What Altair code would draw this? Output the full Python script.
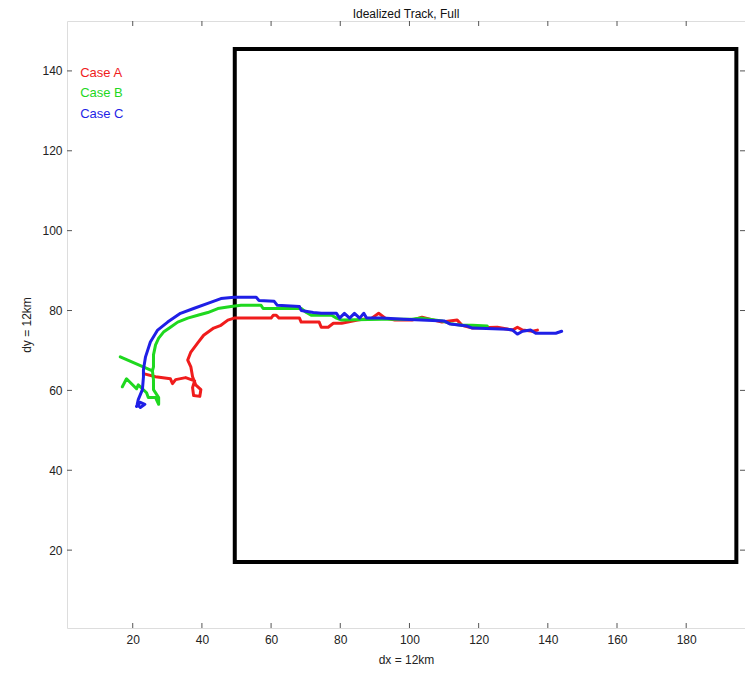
import altair as alt
import pandas as pd

# ---- data ----
case_names = ["Case A", "Case B", "Case C"]
case_colors = ["#f01c1c", "#1fd81f", "#1f1fe6"]

case_a_x = [137.0, 135.6, 132.7, 131.2, 129.8, 125.4, 118.2, 115.2, 113.8, 109.4, 103.6, 100.7, 95.8, 93.0,
            91.1, 89.1, 85.0, 80.4, 78.0, 76.5, 74.5, 73.9, 68.7, 68.2, 62.3, 61.5, 60.6, 60.0, 49.3, 47.5,
            45.5, 43.4, 40.5, 38.8, 36.8, 35.9, 36.8, 37.3, 38.2, 39.7, 39.4, 37.6, 37.3, 37.9, 35.3, 32.4,
            31.5, 30.9, 26.6, 23.1]
case_a_y = [75.1, 74.8, 75.1, 75.8, 75.1, 75.8, 75.6, 76.3, 77.6, 77.1, 78.3, 77.6, 77.6, 78.1,
            79.3, 78.1, 77.6, 76.8, 76.8, 75.8, 75.8, 77.1, 77.1, 78.1, 78.1, 78.8, 78.8, 78.1, 78.1, 77.6,
            76.3, 75.6, 73.8, 71.9, 69.6, 67.6, 65.9, 63.4, 61.4, 60.2, 58.5, 58.7, 60.7, 62.4, 63.2, 62.7,
            61.7, 62.9, 63.4, 64.2]

case_b_x = [122.5, 118.2, 115.2, 112.3, 109.4, 103.6, 100.7, 92.0, 80.4, 78.9, 77.5, 71.6, 70.2, 68.7,
            57.7, 57.1, 51.3, 48.4, 44.6, 41.7, 38.8, 35.9, 33.0, 30.9, 28.9, 27.5, 26.6, 26.0, 26.0, 25.7,
            16.4, 25.7, 26.0, 26.0, 27.5, 27.5, 26.6, 24.5, 24.0, 21.6, 21.1, 18.2, 17.0]
case_b_y = [76.1, 76.3, 76.3, 76.6, 77.4, 78.1, 77.8, 77.8, 77.6, 78.1, 78.8, 78.8, 79.5, 80.5,
            80.5, 81.3, 81.3, 81.0, 80.5, 79.5, 78.8, 78.1, 77.1, 75.8, 74.6, 73.1, 71.4, 68.9, 65.9, 64.9,
            68.4, 64.9, 62.7, 60.2, 58.2, 56.5, 58.2, 58.2, 59.4, 61.4, 60.4, 62.9, 60.9]

case_c_x = [144.0, 142.3, 136.5, 135.0, 132.7, 131.2, 129.8, 128.3, 118.2, 116.7, 111.8, 110.0, 98.4, 92.0,
            87.6, 86.8, 85.6, 84.1, 82.7, 81.2, 79.8, 78.9, 74.5, 72.2, 68.7, 68.2, 61.8, 60.9, 56.5, 55.7,
            49.3, 45.5, 41.7, 37.6, 33.8, 30.1, 27.2, 25.1, 23.7, 23.1, 23.1, 22.8, 21.6, 21.3, 22.2, 23.5,
            22.2, 21.1]
case_c_y = [74.8, 74.3, 74.3, 75.1, 74.8, 74.1, 75.1, 75.3, 75.6, 76.1, 76.6, 77.4, 77.8, 78.1,
            78.1, 79.3, 78.1, 79.3, 78.1, 79.3, 78.1, 79.3, 79.3, 79.5, 80.0, 81.0, 81.3, 82.3, 82.5, 83.3,
            83.3, 83.0, 81.8, 80.5, 79.3, 77.1, 75.1, 72.1, 68.4, 65.2, 63.4, 60.2, 57.7, 56.5, 55.7, 56.5,
            57.0, 56.0]

box_x = [49.5, 194.5]
box_y = [17.0, 145.5]

x_ticks = [20, 40, 60, 80, 100, 120, 140, 160, 180]
y_ticks = [20, 40, 60, 80, 100, 120, 140]

# ---- tables ----
rows = []
for name, xs, ys in [("Case A", case_a_x, case_a_y), ("Case B", case_b_x, case_b_y),
                     ("Case C", case_c_x, case_c_y)]:
    for i, (xv, yv) in enumerate(zip(xs, ys)):
        rows.append({"case": name, "x": xv, "y": yv, "ord": i})
tracks = pd.DataFrame(rows)

box_df = pd.DataFrame([{"x": box_x[0], "x2": box_x[1], "y": box_y[0], "y2": box_y[1]}])
legend_df = pd.DataFrame({"case": case_names, "x": [4.8] * 3, "y": [139.5 - 5.1 * i for i in range(3)]})
xt_df = pd.DataFrame({"x": x_ticks})
yt_df = pd.DataFrame({"y": y_ticks})

W, H = 678, 607
FONT = "Liberation Sans"

xscale = alt.Scale(domain=[1, 197], nice=False, zero=False)
yscale = alt.Scale(domain=[0.5, 152.5], nice=False, zero=False)
xaxis = alt.Axis(values=x_ticks, ticks=False, domain=False, grid=False, labelPadding=6,
                 titlePadding=9, labelFontSize=12, titleFontSize=12, labelColor="#222",
                 titleColor="#222", labelFont=FONT, titleFont=FONT, titleFontWeight="normal")
yaxis = alt.Axis(values=y_ticks, ticks=False, domain=False, grid=False, labelPadding=5,
                 titlePadding=8, labelFontSize=12, titleFontSize=12, labelColor="#222",
                 titleColor="#222", labelFont=FONT, titleFont=FONT, titleFontWeight="normal")
XT = "dx = 12km"
YT = "dy = 12km"
color_scale = alt.Scale(domain=case_names, range=case_colors)

box = alt.Chart(box_df).mark_rect(fillOpacity=0, stroke="black", strokeWidth=4).encode(
    x=alt.X("x:Q", scale=xscale, axis=xaxis, title=XT),
    x2="x2:Q",
    y=alt.Y("y:Q", scale=yscale, axis=yaxis, title=YT),
    y2="y2:Q",
)

lines = alt.Chart(tracks).mark_line(strokeWidth=3, strokeJoin="round", strokeCap="round").encode(
    x=alt.X("x:Q", scale=xscale, axis=xaxis, title=XT),
    y=alt.Y("y:Q", scale=yscale, axis=yaxis, title=YT),
    color=alt.Color("case:N", scale=color_scale, legend=None),
    order="ord:Q",
)

legend_text = alt.Chart(legend_df).mark_text(align="left", baseline="middle", fontSize=13, font=FONT).encode(
    x=alt.X("x:Q", scale=xscale, axis=xaxis, title=XT),
    y=alt.Y("y:Q", scale=yscale, axis=yaxis, title=YT),
    text="case:N",
    color=alt.Color("case:N", scale=color_scale, legend=None),
)

tick_style = dict(color="#555", strokeWidth=1)
xt_bottom = alt.Chart(xt_df).mark_rule(**tick_style).encode(
    x=alt.X("x:Q", scale=xscale, axis=xaxis, title=XT), y=alt.value(H), y2=alt.value(H - 5))
xt_top = alt.Chart(xt_df).mark_rule(**tick_style).encode(
    x=alt.X("x:Q", scale=xscale, axis=xaxis, title=XT), y=alt.value(0), y2=alt.value(5))
yt_left = alt.Chart(yt_df).mark_rule(**tick_style).encode(
    y=alt.Y("y:Q", scale=yscale, axis=yaxis, title=YT), x=alt.value(0), x2=alt.value(5))
yt_right = alt.Chart(yt_df).mark_rule(**tick_style).encode(
    y=alt.Y("y:Q", scale=yscale, axis=yaxis, title=YT), x=alt.value(W), x2=alt.value(W - 5))

chart = alt.layer(box, xt_bottom, xt_top, yt_left, yt_right, lines, legend_text).properties(
    width=W, height=H,
    title=alt.TitleParams("Idealized Track, Full", fontSize=12, fontWeight="normal", font=FONT,
                          color="#111", anchor="middle", offset=0),
    autosize=alt.AutoSizeParams(type="none"),
    padding={"left": 59, "top": 13, "right": 0, "bottom": 38},
).configure_view(stroke="#555", strokeWidth=1.5).configure(background="white")

chart.save("out.html", embed_options={"renderer": "svg", "actions": False})
